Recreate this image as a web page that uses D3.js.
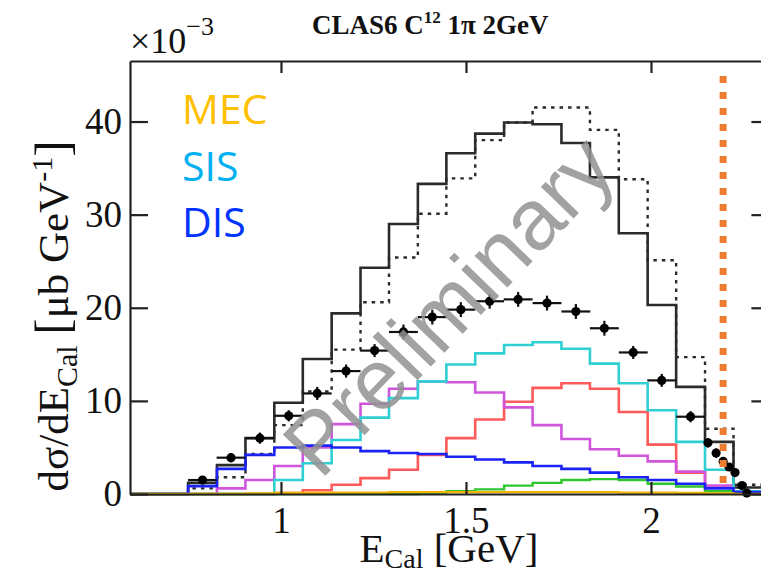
<!DOCTYPE html>
<html>
<head>
<meta charset="utf-8">
<script src="https://cdn.jsdelivr.net/npm/d3@7"></script>
<style>
  html, body { margin: 0; padding: 0; background: #fff; }
  svg { display: block; }
</style>
</head>
<body>
<svg id="chart" width="761" height="571"></svg>
<script>
// E_Cal bin edges [GeV]
const binEdges = [0.749, 0.827, 0.904, 0.982, 1.059, 1.137, 1.215, 1.292, 1.370, 1.447,
                  1.525, 1.603, 1.680, 1.758, 1.835, 1.913, 1.991, 2.068, 2.146, 2.223, 2.301];

// Model histograms, dσ/dE_Cal in units of 1e-3 μb/GeV
const totalModel = [1.2, 3.1, 6.0, 9.8, 14.5, 19.4, 24.3, 29.0, 33.3, 36.6,
                    38.7, 39.9, 39.7, 37.7, 34.0, 28.0, 20.3, 11.5, 5.6, 0.7];
const altModel   = [0.6, 1.8, 4.3, 7.4, 11.0, 15.5, 20.6, 25.4, 30.1, 33.9,
                    38.0, 39.9, 41.5, 41.5, 39.1, 33.8, 25.1, 14.7, 7.0, 1.0];
const resRed     = [0, 0, 0, 0.1, 0.4, 1.0, 1.7, 2.6, 4.2, 6.0,
                    8.0, 9.9, 11.4, 11.9, 11.3, 8.8, 5.3, 2.3, 0.8, 0.1];
const resMagenta = [0, 0.6, 1.5, 3.0, 5.0, 7.5, 9.7, 11.3, 12.1, 12.0,
                    10.9, 9.3, 7.4, 5.9, 4.8, 4.1, 3.5, 2.4, 0.9, 0.2];
const sisCyan    = [0, 0, 0, 1.5, 3.3, 5.8, 8.2, 10.3, 12.1, 13.9,
                    15.1, 16.0, 16.3, 15.6, 14.0, 11.9, 9.0, 5.6, 2.6, 0.3];
const disBlue    = [0.85, 2.7, 4.2, 5.0, 5.2, 5.0, 4.6, 4.4, 4.3, 4.0,
                    3.7, 3.4, 3.0, 2.7, 2.3, 1.8, 1.5, 1.1, 0.6, 0.2];
const otherGreen = [0, 0, 0, 0, 0, 0, 0, 0, 0.1, 0.3,
                    0.5, 0.9, 1.2, 1.5, 1.6, 1.5, 1.1, 0.8, 0.3, 0.1];
const mecOrange  = [0, 0, 0.05, 0.1, 0.1, 0.15, 0.15, 0.2, 0.2, 0.2,
                    0.2, 0.2, 0.2, 0.2, 0.2, 0.15, 0.15, 0.1, 0.05, 0];

// Measured points
const dataE    = [0.788, 0.865, 0.943, 1.021, 1.098, 1.176, 1.253, 1.331, 1.409, 1.486,
                  1.564, 1.641, 1.719, 1.797, 1.874, 1.952, 2.029, 2.107,
                  2.154, 2.176, 2.195, 2.211, 2.227, 2.246, 2.259];
const dataVal  = [1.5, 3.9, 6.0, 8.4, 10.8, 13.2, 15.4, 17.4, 19.0, 19.8,
                  20.7, 20.9, 20.5, 19.6, 17.8, 15.2, 12.2, 8.3,
                  5.5, 4.4, 3.5, 2.9, 2.3, 0.9, 0.1];
const dataErrE = [0.039, 0.039, 0.039, 0.039, 0.039, 0.039, 0.039, 0.039, 0.039, 0.039,
                  0.039, 0.039, 0.039, 0.039, 0.039, 0.039, 0.039, 0.039,
                  0.008, 0.008, 0.008, 0.008, 0.008, 0.008, 0.008];
const dataErrV = [0.4, 0.5, 0.6, 0.6, 0.7, 0.7, 0.7, 0.8, 0.8, 0.8,
                  0.8, 0.8, 0.8, 0.8, 0.8, 0.7, 0.7, 0.6,
                  0.5, 0.5, 0.4, 0.4, 0.4, 0.3, 0.3];

// Beam-energy cut marker [GeV]
const cutEnergy = 2.195;

// Axis ticks
const xTicks = [1, 1.5, 2];
const yTicks = [0, 10, 20, 30, 40];

// Legend
const legendLabels = ["MEC", "SIS", "DIS"];
const legendColors = ["#ffc000", "#00b0f0", "#0033ff"];

const svg = d3.select("#chart");
const x = d3.scaleLinear().domain([0.592, 2.32]).range([130, 769.4]);
const y = d3.scaleLinear().domain([0, 46.5]).range([494, 61]);
const [xMin, xMax] = x.domain();

const line = d3.line().x(d => x(d[0])).y(d => y(d[1]));

function stepPoints(vals) {
  const pts = [[xMin, 0], [binEdges[0], 0]];
  vals.forEach((v, i) => {
    pts.push([binEdges[i], v]);
    pts.push([binEdges[i + 1], v]);
  });
  pts.push([binEdges[binEdges.length - 1], 0]);
  pts.push([xMax, 0]);
  return pts;
}

const plot = svg.append("g");

// model histograms
const histos = [
  { v: totalModel, c: "#2b2b2b", w: 2.6, dash: null },
  { v: altModel,   c: "#2b2b2b", w: 2.4, dash: "3.5 5" },
  { v: resRed,     c: "#ff5a5a", w: 2.6, dash: null },
  { v: resMagenta, c: "#cf55dc", w: 2.6, dash: null },
  { v: sisCyan,    c: "#30cfd3", w: 2.6, dash: null },
  { v: otherGreen, c: "#2fc52f", w: 2.4, dash: null },
  { v: disBlue,    c: "#1b22f5", w: 2.6, dash: null },
  { v: mecOrange,  c: "#f2b400", w: 2.4, dash: null }
];
histos.forEach(h => {
  plot.append("path")
    .attr("d", line(stepPoints(h.v)))
    .attr("fill", "none")
    .attr("stroke", h.c)
    .attr("stroke-width", h.w)
    .attr("stroke-dasharray", h.dash)
    .attr("stroke-linejoin", "miter");
});

// data points with error bars
const pts = plot.append("g").selectAll("g")
  .data(dataE.map((e, i) => ({ e, v: dataVal[i], ee: dataErrE[i], ev: dataErrV[i] })))
  .join("g");
pts.append("line")
  .attr("x1", d => x(d.e - d.ee)).attr("x2", d => x(d.e + d.ee))
  .attr("y1", d => y(d.v)).attr("y2", d => y(d.v))
  .attr("stroke", "#111").attr("stroke-width", 2.2);
pts.append("line")
  .attr("x1", d => x(d.e)).attr("x2", d => x(d.e))
  .attr("y1", d => y(d.v - d.ev)).attr("y2", d => y(d.v + d.ev))
  .attr("stroke", "#111").attr("stroke-width", 2.2);
pts.append("circle")
  .attr("cx", d => x(d.e)).attr("cy", d => y(d.v)).attr("r", 4.6)
  .attr("fill", "#000");

// axes (frame with inward ticks)
const axisFont = "'Liberation Serif', 'Times New Roman', serif";
function styleAxis(g) {
  g.select(".domain").attr("stroke", "#222").attr("stroke-width", 2.2);
  g.selectAll(".tick line").attr("stroke", "#222").attr("stroke-width", 2.2);
  g.selectAll(".tick text").attr("font-family", axisFont).attr("font-size", 37).attr("fill", "#111");
}
svg.append("g").attr("transform", `translate(0,${y(0)})`)
  .call(d3.axisBottom(x).tickValues(xTicks).tickSizeInner(-12).tickSizeOuter(0).tickPadding(13)
        .tickFormat(d3.format("")))
  .call(styleAxis);
svg.append("g").attr("transform", `translate(0,${y.range()[1]})`)
  .call(d3.axisTop(x).tickValues(xTicks).tickSizeInner(-12).tickSizeOuter(0).tickFormat(""))
  .call(styleAxis);
svg.append("g").attr("transform", `translate(${x(xMin)},0)`)
  .call(d3.axisLeft(y).tickValues(yTicks).tickSizeInner(-18).tickSizeOuter(0).tickPadding(8))
  .call(styleAxis);
svg.append("g").attr("transform", `translate(${x(xMax)},0)`)
  .call(d3.axisRight(y).tickValues(yTicks).tickSizeInner(-18).tickSizeOuter(0).tickFormat(""))
  .call(styleAxis);

// cut marker
svg.append("line")
  .attr("x1", x(cutEnergy)).attr("x2", x(cutEnergy))
  .attr("y1", 76).attr("y2", 490)
  .attr("stroke", "#ed7d31").attr("stroke-width", 7)
  .attr("stroke-dasharray", "7 9");

// exponent
const expo = svg.append("text")
  .attr("x", 130).attr("y", 53)
  .attr("font-family", axisFont).attr("font-size", 36).attr("fill", "#111");
expo.append("tspan").text("×10");
expo.append("tspan").attr("font-size", 26).attr("dy", -18).text("−3");

// title
const title = svg.append("text")
  .attr("x", 312).attr("y", 34)
  .attr("font-family", axisFont).attr("font-size", 27).attr("font-weight", "bold").attr("fill", "#111");
title.append("tspan").text("CLAS6 C");
title.append("tspan").attr("font-size", 17).attr("dy", -11).text("12");
title.append("tspan").attr("dy", 11).text(" 1π 2GeV");

// y-axis title
const ylab = svg.append("text")
  .attr("transform", "translate(68,316) rotate(-90)")
  .attr("text-anchor", "middle")
  .attr("font-family", axisFont).attr("font-size", 43).attr("fill", "#111");
ylab.append("tspan").text("dσ/dE");
ylab.append("tspan").attr("font-size", 30).attr("dy", 9).text("Cal");
ylab.append("tspan").attr("dy", -9).text(" ");
ylab.append("tspan").attr("font-size", 49).text("[");
ylab.append("tspan").text("μb GeV");
ylab.append("tspan").attr("font-size", 30).attr("dy", -16).text("-1");
ylab.append("tspan").attr("font-size", 49).attr("dy", 16).text("]");

// x-axis title
const xlab = svg.append("text")
  .attr("x", 449).attr("y", 562)
  .attr("text-anchor", "middle")
  .attr("font-family", axisFont).attr("font-size", 41).attr("fill", "#111");
xlab.append("tspan").text("E");
xlab.append("tspan").attr("font-size", 28).attr("dy", 6).text("Cal");
xlab.append("tspan").attr("dy", -6).text(" ");
xlab.append("tspan").text("[GeV]");

// legend
svg.append("g").selectAll("text")
  .data(legendLabels)
  .join("text")
  .attr("x", 182)
  .attr("y", (d, i) => 124 + i * 56.5)
  .attr("font-family", "'Open Sans', 'Noto Sans', sans-serif")
  .attr("font-size", 41)
  .attr("fill", (d, i) => legendColors[i])
  .text(d => d);

// watermark
svg.append("text")
  .attr("transform", "translate(470,326) rotate(-46)")
  .attr("text-anchor", "middle")
  .attr("font-family", "'Liberation Sans', Arial, sans-serif")
  .attr("font-size", 86)
  .attr("fill", "#929292")
  .attr("fill-opacity", 0.85)
  .text("Preliminary");
</script>
</body>
</html>
